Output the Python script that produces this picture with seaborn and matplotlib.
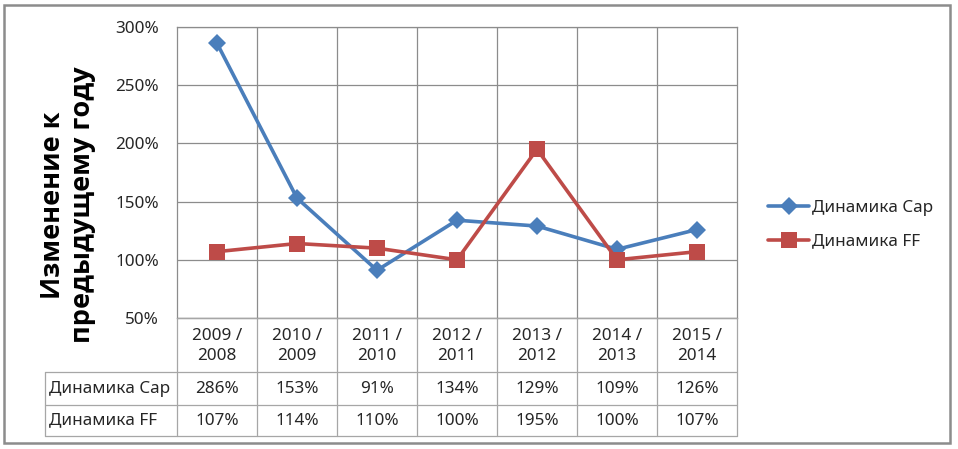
import numpy as np
import pandas as pd
import matplotlib
matplotlib.use("Agg")
import matplotlib.pyplot as plt
import seaborn as sns
from matplotlib.patches import Rectangle

periods = ["2009 /\n2008", "2010 /\n2009", "2011 /\n2010", "2012 /\n2011",
           "2013 /\n2012", "2014 /\n2013", "2015 /\n2014"]
series_names = ["Динамика Cap", "Динамика FF"]
cap_values = [2.86, 1.53, 0.91, 1.34, 1.29, 1.09, 1.26]
ff_values = [1.07, 1.14, 1.10, 1.00, 1.95, 1.00, 1.07]
y_ticks = [0.5, 1.0, 1.5, 2.0, 2.5, 3.0]
y_label = "Изменение к\nпредыдущему году"

sns.set_theme(style="white")
plt.rcParams['font.family'] = ['Noto Sans', 'DejaVu Sans']

FS = 12.3
TXT = "#262626"

W, H = 958, 449
fig = plt.figure(figsize=(W / 100, H / 100), dpi=100)
fig.patch.set_facecolor("white")

def fx(px):
    return px / W

def fy(py):
    return 1 - py / H

# outer border
fig.add_artist(Rectangle((fx(4), fy(443)), fx(946), (443 - 5) / H, transform=fig.transFigure,
                         fill=False, edgecolor="#8c8c8c", linewidth=1.8))

L, R, T, B = 177, 737, 27, 318
ax = fig.add_axes([fx(L), fy(B), (R - L) / W, (B - T) / H])

df = pd.DataFrame({
    "pos": list(range(len(periods))) * 2,
    "value": cap_values + ff_values,
    "series": [series_names[0]] * len(cap_values) + [series_names[1]] * len(ff_values),
})
colors = {series_names[0]: "#4a7ebb", series_names[1]: "#be4b48"}
markers = {series_names[0]: "D", series_names[1]: "s"}
sizes = {series_names[0]: 9, series_names[1]: 11}

for name in series_names:
    sub = df[df["series"] == name]
    sns.lineplot(data=sub, x="pos", y="value", ax=ax, color=colors[name], linewidth=2.6,
                 marker=markers[name], markersize=sizes[name], markeredgewidth=0,
                 label=name, legend=False, zorder=3)

ax.set_xlim(-0.5, len(periods) - 0.5)
ax.set_ylim(0.5, 3.0)
ax.set_yticks(y_ticks)
ax.set_yticklabels([f"{int(round(v * 100))}%" for v in y_ticks], fontsize=FS, color=TXT)
ax.set_xticks([])
ax.set_xlabel("")
ax.set_ylabel("")
ax.tick_params(axis="y", length=0, pad=13)
ax.grid(False)
for v in y_ticks:
    ax.axhline(v, color="#8c8c8c", linewidth=0.9, zorder=1)
for k in range(len(periods) - 1):
    ax.axvline(k + 0.5, color="#8c8c8c", linewidth=0.9, zorder=1)
for s in ax.spines.values():
    s.set_color("#8c8c8c")
    s.set_linewidth(0.9)

# y label
fig.text(fx(68), fy(205), y_label, rotation=90, ha="center", va="center",
         fontsize=19.5, fontweight="bold", color="black", linespacing=1.25,
         family=["Open Sans", "DejaVu Sans"])

# legend
handles, labels = ax.get_legend_handles_labels()
fig.legend(handles, labels, loc="center left", bbox_to_anchor=(fx(753), fy(225)),
           frameon=False, fontsize=FS, handlelength=2.4, handletextpad=0.15,
           labelspacing=1.0)

# data table
TL = 45
TT, TH1, TR1, TB = 318, 372, 405, 436
tax = fig.add_axes([fx(TL), fy(TB), (R - TL) / W, (TB - TT) / H])
unit = (R - L) / len(periods)
x0 = -0.5 - (L - TL) / unit
tax.set_xlim(x0, len(periods) - 0.5)
tax.set_ylim(TB, TT)
tax.axis("off")
gc = "#a6a6a6"
lw = 0.9
tax.plot([-0.5, len(periods) - 0.5], [TT, TT], color=gc, lw=lw, clip_on=False)
for yy in (TH1, TR1, TB):
    tax.plot([x0, len(periods) - 0.5], [yy, yy], color=gc, lw=lw, clip_on=False)
tax.plot([x0, x0], [TH1, TB], color=gc, lw=lw, clip_on=False)
for k in range(len(periods) + 1):
    xx = k - 0.5
    tax.plot([xx, xx], [TT, TB], color=gc, lw=lw, clip_on=False)

for i, p in enumerate(periods):
    tax.text(i, (TT + TH1) / 2 + 1, p, ha="center", va="center", fontsize=FS,
             color=TXT, linespacing=1.35)
    tax.text(i, (TH1 + TR1) / 2, f"{int(round(cap_values[i] * 100))}%", ha="center",
             va="center", fontsize=FS, color=TXT)
    tax.text(i, (TR1 + TB) / 2, f"{int(round(ff_values[i] * 100))}%", ha="center",
             va="center", fontsize=FS, color=TXT)
tax.text(x0 + 0.05, (TH1 + TR1) / 2, series_names[0], ha="left", va="center",
         fontsize=FS, color=TXT)
tax.text(x0 + 0.05, (TR1 + TB) / 2, series_names[1], ha="left", va="center",
         fontsize=FS, color=TXT)

fig.savefig("out.png", dpi=100, facecolor="white")
